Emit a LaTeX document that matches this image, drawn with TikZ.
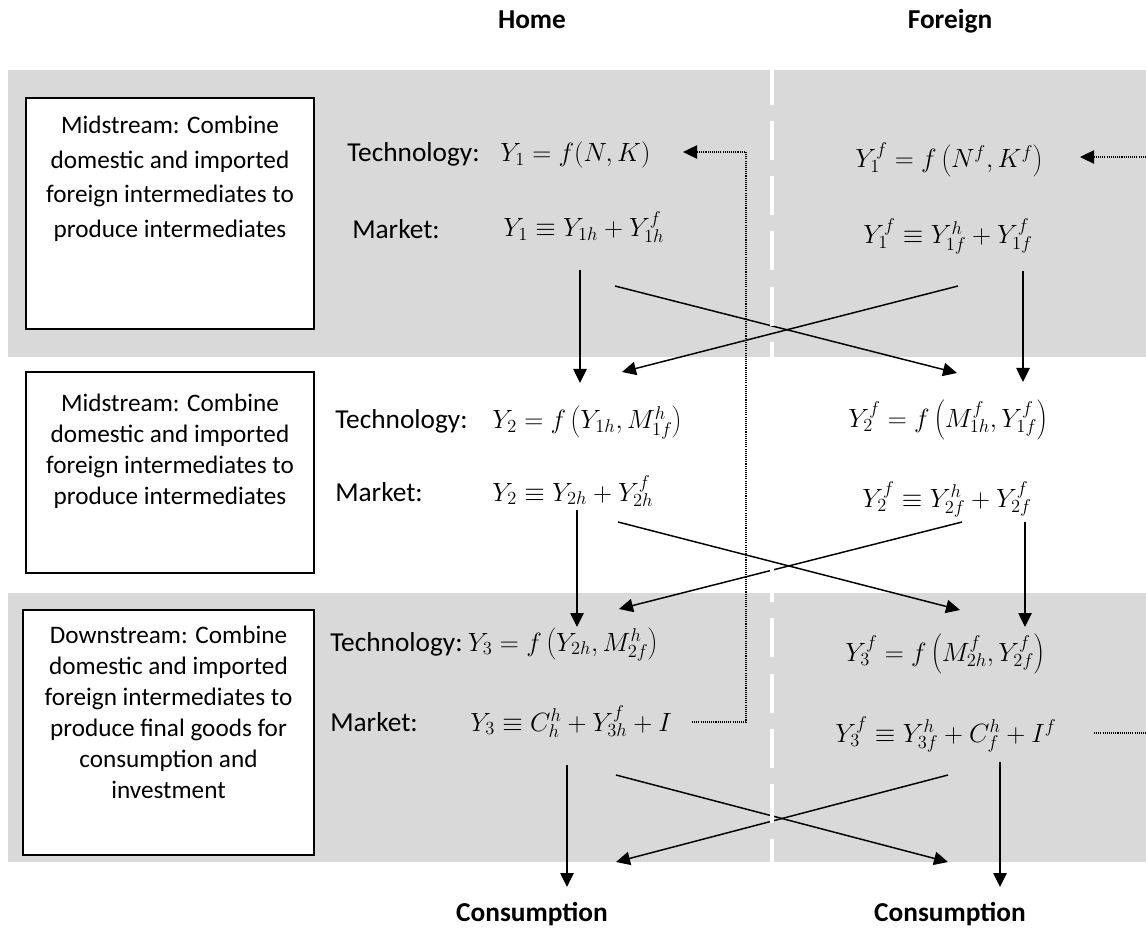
\documentclass[tikz,border=0pt]{standalone}
\usepackage{fix-cm}
\usepackage{fontspec}
\setmainfont{Carlito}
\usetikzlibrary{arrows.meta}
\definecolor{bandgrey}{HTML}{D9D9D9}
\begin{document}
\begin{tikzpicture}[x=0.75pt,y=-0.75pt,
  lbl/.style={inner sep=0pt, font=\fontsize{20.5}{25}\selectfont, anchor=base west},
  eq/.style={inner sep=0pt, font=\fontsize{19.8}{24}\selectfont, anchor=base west},
  hdr/.style={inner sep=0pt, font=\fontsize{20.5}{24}\selectfont\bfseries, anchor=base},
  frame/.style={draw=black, line width=1.1pt, fill=white, inner sep=0pt},
  boxtext/.style={inner sep=0pt, align=center, anchor=north},
  flow/.style={line width=1.1pt, -{Triangle[length=10.5pt,width=10pt]}},
  link/.style={line width=0.8pt, dash pattern=on 0.8pt off 0.8pt},
  linkarrow/.style={link, -{Triangle[length=10.5pt,width=10pt]}},
  divider/.style={white, line width=3pt, dash pattern=on 29.25pt off 12.2pt}
]
\useasboundingbox (0,0) rectangle (1146,930);
\fill[white] (0,0) rectangle (1146,930);
% grey bands
\fill[bandgrey] (8,70) rectangle (1146,357);
\fill[bandgrey] (8,593) rectangle (1146,862);

% headers
\node[hdr] (home) at (532,29) {Home};
\node[hdr] (foreign) at (950,29) {Foreign};

% left boxes
\node[frame, minimum width=216pt, minimum height=173.25pt] (b1) at (170,213.5) {};
\node[boxtext, font=\fontsize{18.9}{25.9}\selectfont] (t1) at (170,116)
  {Midstream: Combine\\domestic and imported\\foreign intermediates to\\produce intermediates};
\node[frame, minimum width=216pt, minimum height=150.75pt] (b2) at (170,472.5) {};
\node[boxtext, font=\fontsize{18.9}{23.25}\selectfont] (t2) at (170,394)
  {Midstream: Combine\\domestic and imported\\foreign intermediates to\\produce intermediates};
\node[frame, minimum width=218.25pt, minimum height=183.75pt] (b3) at (168.5,732.5) {};
\node[boxtext, font=\fontsize{18.9}{23.25}\selectfont] (t3) at (168.5,626)
  {Downstream: Combine\\domestic and imported\\foreign intermediates to\\produce final goods for\\consumption and\\investment};

% row 1
\node[lbl] (h1tl) at (347,162) {Technology:};
\node[eq] (h1t) at (500,162) {$Y_1 = f(N,K)$};
\node[lbl] (h1ml) at (352,239) {Market:};
\node[eq] (h1m) at (503,237) {$Y_1 \equiv Y_{1h} + Y_{1h}^f$};
\node[eq] (f1t) at (855,168) {$Y_1^f = f\left(N^f,K^f\right)$};
\node[eq] (f1m) at (863,244) {$Y_1^f \equiv Y_{1f}^h + Y_{1f}^f$};

% row 2
\node[lbl] (h2tl) at (335,429) {Technology:};
\node[eq] (h2t) at (492,429) {$Y_2 = f\left(Y_{1h}, M_{1f}^h\right)$};
\node[lbl] (h2ml) at (335,501) {Market:};
\node[eq] (h2m) at (492,501) {$Y_2 \equiv Y_{2h} + Y_{2h}^f$};
\node[eq] (f2t) at (848,427) {$Y_2^f = f\left(M_{1h}^f, Y_{1f}^f\right)$};
\node[eq] (f2m) at (862,507) {$Y_2^f \equiv Y_{2f}^h + Y_{2f}^f$};

% row 3
\node[lbl] (h3tl) at (330,651) {Technology:};
\node[eq] (h3t) at ([xshift=3.5pt]h3tl.base east) {$Y_3 = f\left(Y_{2h}, M_{2f}^h\right)$};
\node[lbl] (h3ml) at (330,731) {Market:};
\node[eq] (h3m) at (470,731) {$Y_3 \equiv C_h^h + Y_{3h}^f + I$};
\node[eq] (f3t) at (845,661) {$Y_3^f = f\left(M_{2h}^f, Y_{2f}^f\right)$};
\node[eq] (f3m) at (835,742) {$Y_3^f \equiv Y_{3f}^h + C_f^h + I^f$};

% bottom labels
\node[hdr] (hc) at (532,921) {Consumption};
\node[hdr] (fc) at (950,921) {Consumption};

% connector end points
\coordinate (a1s) at (580,270);  \coordinate (a1e) at (580,383);
\coordinate (b1s) at (1023,271); \coordinate (b1e) at (1023,382);
\coordinate (c1s) at (615,286);  \coordinate (c1e) at (957,373);
\coordinate (d1s) at (958,286);  \coordinate (d1e) at (622,372);
\coordinate (a2s) at (577,510);  \coordinate (a2e) at (577,627);
\coordinate (b2s) at (1025,522); \coordinate (b2e) at (1025,627);
\coordinate (c2s) at (618,522);  \coordinate (c2e) at (960,610);
\coordinate (d2s) at (962,522);  \coordinate (d2e) at (619,609);
\coordinate (a3s) at (567,765);  \coordinate (a3e) at (567,887);
\coordinate (b3s) at (1000,762); \coordinate (b3e) at (1000,887);
\coordinate (c3s) at (616,775);  \coordinate (c3e) at (948,862);
\coordinate (d3s) at (948,775);  \coordinate (d3e) at (616,862);

\draw[flow] (a1s) -- (a1e);
\draw[flow] (b1s) -- (b1e);
\draw[flow] (c1s) -- (c1e);
\draw[flow] (d1s) -- (d1e);
\draw[flow] (a2s) -- (a2e);
\draw[flow] (b2s) -- (b2e);
\draw[flow] (c2s) -- (c2e);
\draw[flow] (d2s) -- (d2e);
\draw[flow] (a3s) -- (a3e);
\draw[flow] (b3s) -- (b3e);
\draw[flow] (c3s) -- (c3e);
\draw[flow] (d3s) -- (d3e);

% dotted feedback links
\coordinate (hl0) at (692,722);
\coordinate (hl1) at (746,722);
\coordinate (hl2) at (746,152);
\coordinate (hl3) at (683,152);
\draw[linkarrow] (hl0) -- (hl1) -- (hl2) -- (hl3);
\coordinate (fl0) at (1094,733);
\coordinate (fl1) at (1146,733);
\draw[link] (fl0) -- (fl1);
\coordinate (fl2) at (1146,157);
\coordinate (fl3) at (1080,157);
\draw[linkarrow] (fl2) -- (fl3);

% white dashed divider between Home and Foreign
\coordinate (dv0) at (772,65.7);
\coordinate (dv1) at (772,862);
\draw[divider] (dv0) -- (dv1);
\end{tikzpicture}
\end{document}
